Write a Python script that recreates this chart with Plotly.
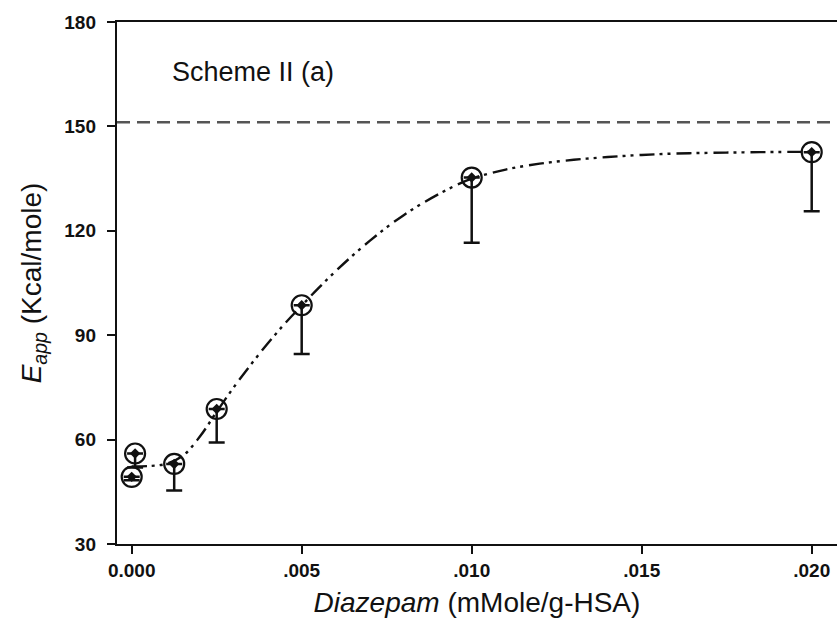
import plotly.graph_objects as go

# Data
dose = [0.0, 0.0001, 0.00125, 0.0025, 0.005, 0.010, 0.020]
e_app = [49.3, 56.0, 53.0, 68.8, 98.6, 135.3, 142.6]
err_minus = [1.0, 4.0, 7.6, 9.6, 14.0, 18.7, 17.0]

# Fitted curve
curve_x = [0.0, 0.0005, 0.001, 0.0015, 0.002, 0.0025, 0.003, 0.0035, 0.004,
           0.0045, 0.005, 0.0055, 0.006, 0.0065, 0.007, 0.0075, 0.008, 0.0085,
           0.009, 0.0095, 0.010, 0.011, 0.012, 0.013, 0.014, 0.015, 0.016,
           0.017, 0.018, 0.019, 0.020]
curve_y = [52.3, 52.4, 53.0, 55.3, 60.8, 68.0, 75.0, 81.5, 87.6,
           93.3, 98.5, 103.6, 108.4, 112.9, 117.1, 121.0, 124.5, 127.6,
           130.4, 132.9, 135.0, 137.6, 139.3, 140.4, 141.2, 141.8, 142.2,
           142.4, 142.55, 142.65, 142.7]

asymptote = 151.2

x_ticks = [0.0, 0.005, 0.010, 0.015, 0.020]
x_tick_labels = ["0.000", ".005", ".010", ".015", ".020"]
y_ticks = [30, 60, 90, 120, 150, 180]

ink = "#111111"
FONT = "Liberation Sans, Arial, sans-serif"

fig = go.Figure()

fig.add_trace(go.Scatter(
    x=curve_x, y=curve_y, mode="lines", line_shape="spline",
    line=dict(color=ink, width=2.4, dash="15px,5px,3px,5px,3px,6px"),
    hoverinfo="skip", showlegend=False))

fig.add_trace(go.Scatter(
    x=dose, y=e_app, mode="markers",
    marker=dict(symbol="circle-open", size=20, color=ink, line=dict(width=2.2, color=ink)),
    error_y=dict(type="data", symmetric=False, array=[0] * len(dose),
                 arrayminus=err_minus, color=ink, thickness=2.5, width=8),
    showlegend=False))

fig.add_trace(go.Scatter(
    x=dose, y=e_app, mode="markers",
    marker=dict(symbol="diamond", size=8, color=ink),
    showlegend=False))

fig.add_shape(type="line", xref="paper", x0=0, x1=1, yref="y", y0=asymptote, y1=asymptote,
              line=dict(color="#555555", width=2.4, dash="13px,7px"))

fig.add_annotation(text="Scheme II (a)", xref="paper", yref="paper", x=0.073, y=0.904,
                   xanchor="left", yanchor="middle", showarrow=False,
                   font=dict(family=FONT, size=27, color=ink))

fig.update_layout(
    width=837, height=634,
    margin=dict(l=117, r=0, t=22, b=90),
    paper_bgcolor="white", plot_bgcolor="white",
    font=dict(family=FONT, color=ink),
    xaxis=dict(
        range=[-0.000432, 0.020744], tickvals=x_ticks, ticktext=x_tick_labels,
        showline=True, linecolor=ink, linewidth=2.4, mirror=True,
        ticks="outside", ticklen=8, tickwidth=2.2, tickcolor=ink,
        showgrid=False, zeroline=False,
        tickfont=dict(family=FONT, size=19, color=ink, weight="bold"),
        title=dict(text="<i>Diazepam</i> (mMole/g-HSA)", standoff=12,
                   font=dict(family=FONT, size=28, color=ink)),
    ),
    yaxis=dict(
        range=[30, 180], tickvals=y_ticks,
        showline=True, linecolor=ink, linewidth=2.4,
        ticks="outside", ticklen=8, tickwidth=2.2, tickcolor=ink,
        ticklabelstandoff=7,
        showgrid=False, zeroline=False,
        tickfont=dict(family=FONT, size=19, color=ink, weight="bold"),
        title=dict(text="<i>E<sub>app</sub></i> (Kcal/mole)", standoff=14,
                   font=dict(family=FONT, size=28, color=ink)),
    ),
)

fig.write_html("out.html", config={"displayModeBar": False},
               post_script="document.body.style.margin='0';")
